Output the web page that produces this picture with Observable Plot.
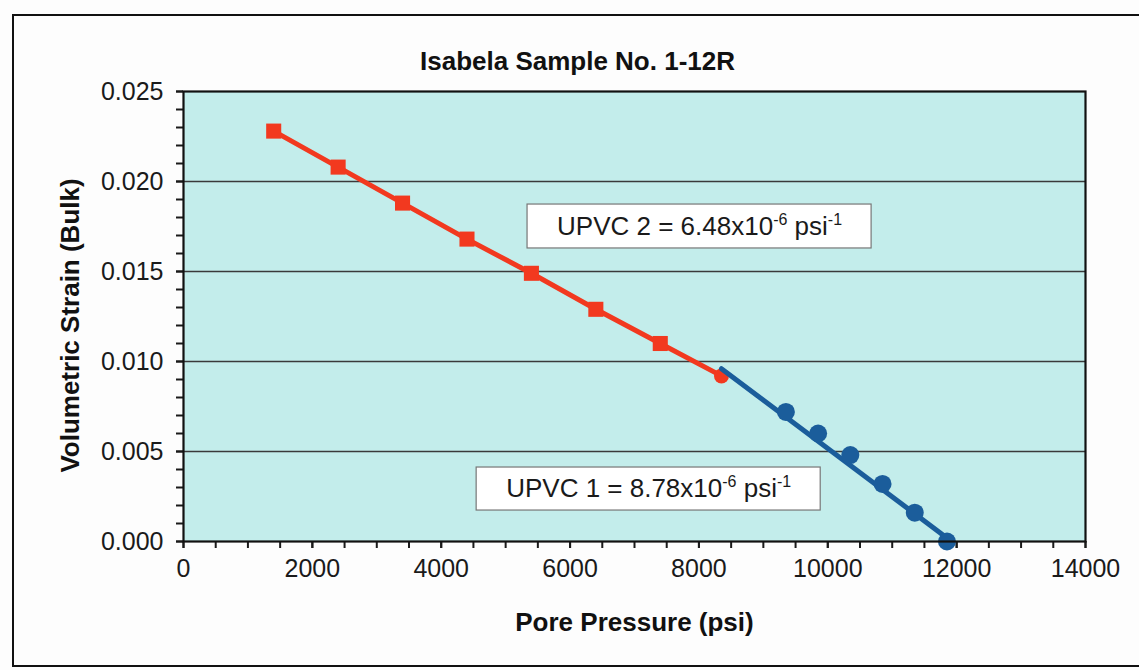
<!DOCTYPE html>
<html>
<head>
<meta charset="utf-8">
<script src="https://cdn.jsdelivr.net/npm/d3@7"></script>
<script src="https://cdn.jsdelivr.net/npm/@observablehq/plot@0.6"></script>
<style>
  html, body { margin: 0; padding: 0; background: #fdfdfd; overflow: hidden; }
  #wrap { position: relative; width: 1139px; height: 670px; }
  #border { position: absolute; left: 12px; top: 14px; width: 1140px; height: 649px; border: 2px solid #111; border-right: none; }
  #chart { position: absolute; left: 0; top: 0; }
  svg { font-family: "Liberation Sans", Arial, sans-serif; }
</style>
</head>
<body>
<div id="wrap"><div id="border"></div><div id="chart"></div></div>
<script>
// ---- data ----
const title = "Isabela Sample No. 1-12R";
const xLabel = "Pore Pressure (psi)";
const yLabel = "Volumetric Strain (Bulk)";

// UPVC 2 stage (red squares)
const redPressure = [1400, 2400, 3400, 4400, 5400, 6400, 7400, 8350];
const redStrain   = [0.0228, 0.0208, 0.0188, 0.0168, 0.0149, 0.0129, 0.0110, 0.0092];

// UPVC 1 stage (blue circles)
const bluePressure = [9350, 9850, 10350, 10850, 11350, 11850];
const blueStrain   = [0.0072, 0.0060, 0.0048, 0.0032, 0.0016, 0.0000];

// fitted UPVC 1 line end points
const blueFitPressure = [8350, 11850];
const blueFitStrain   = [0.0096, 0.0002];

const xTicksMajor = [0, 2000, 4000, 6000, 8000, 10000, 12000, 14000];
const yTicksMajor = [0, 0.005, 0.010, 0.015, 0.020, 0.025];
const gridValues  = [0.005, 0.010, 0.015, 0.020];

// annotation text pieces: [text, isSuperscript]
const upvc2Parts = [["UPVC 2 = 6.48x10", false], ["-6", true], [" psi", false], ["-1", true]];
const upvc1Parts = [["UPVC 1 = 8.78x10", false], ["-6", true], [" psi", false], ["-1", true]];

// ---- build tables ----
const red = redPressure.map((p, i) => ({p, s: redStrain[i]}));
const redSquares = red.slice(0, -1);
const redLast = red.slice(-1);
const blue = bluePressure.map((p, i) => ({p, s: blueStrain[i]}));
const blueFit = blueFitPressure.map((p, i) => ({p, s: blueFitStrain[i]}));

const RED = "#f2391f";
const BLUE = "#1b5d9b";
const FS = 25;

const annotations = [
  {parts: upvc2Parts, x1: 5340, x2: 10680, y1: 0.01628, y2: 0.01872, cx: 8010, cy: 0.01750},
  {parts: upvc1Parts, x1: 4550, x2: 9890, y1: 0.00172, y2: 0.00411, cx: 7220, cy: 0.00291}
];

const chart = Plot.plot({
  width: 1139,
  height: 670,
  marginLeft: 183,
  marginRight: 54,
  marginTop: 91,
  marginBottom: 129,
  style: {fontFamily: '"Liberation Sans", Arial, sans-serif', background: "transparent", color: "#1a1a1a"},
  x: {domain: [0, 14000]},
  y: {domain: [0, 0.025]},
  marks: [
    Plot.frame({fill: "#c3edeb"}),
    Plot.ruleY(gridValues, {stroke: "#3a3a3a", strokeWidth: 1.3}),
    // minor ticks
    Plot.axisX({ticks: d3.range(0, 14001, 500), tickSize: 7, text: null, label: null, strokeWidth: 2}),
    Plot.axisY({ticks: d3.range(0, 0.02501, 0.001), tickSize: 7, text: null, label: null, strokeWidth: 2}),
    // labelled axes
    Plot.axisX({ticks: xTicksMajor, tickSize: 7, tickPadding: 11, tickFormat: d => String(d), fontSize: FS, label: null, strokeWidth: 2}),
    Plot.axisY({ticks: yTicksMajor, tickSize: 7, tickPadding: 13, tickFormat: d3.format(".3f"), fontSize: FS, label: null, strokeWidth: 2}),
    // annotation boxes
    Plot.rect(annotations, {x1: "x1", x2: "x2", y1: "y1", y2: "y2", fill: "white", stroke: "#777", strokeWidth: 1.2}),
    Plot.text(annotations, {x: "cx", y: "cy", text: d => d.parts.map(q => q[0]).join(""), fontSize: 26, fill: "#1a1a1a"}),
    // series
    Plot.line(red, {x: "p", y: "s", stroke: RED, strokeWidth: 5}),
    Plot.dot(redSquares, {x: "p", y: "s", symbol: "square", r: 8.5, fill: RED}),
    Plot.dot(redLast, {x: "p", y: "s", symbol: "circle", r: 7.5, fill: RED}),
    Plot.line(blueFit, {x: "p", y: "s", stroke: BLUE, strokeWidth: 5}),
    Plot.dot(blue, {x: "p", y: "s", symbol: "circle", r: 9, fill: BLUE}),
    Plot.frame({stroke: "#111", strokeWidth: 2.2}),
    // titles
    Plot.text([title], {frameAnchor: "top", lineAnchor: "middle", dx: -57, dy: -30, fontSize: 26, fontWeight: "bold", fill: "#111"}),
    Plot.text([xLabel], {frameAnchor: "bottom", lineAnchor: "middle", dy: 81, fontSize: 26, fontWeight: "bold", fill: "#111"}),
    Plot.text([yLabel], {frameAnchor: "left", textAnchor: "middle", dx: -113, dy: 9, rotate: -90, fontSize: 26, fontWeight: "bold", fill: "#111"})
  ]
});

document.getElementById("chart").appendChild(chart);

// superscripts in annotation labels
d3.select(chart).selectAll("text").each(function() {
  const el = d3.select(this);
  const txt = el.text();
  const ann = annotations.find(a => a.parts.map(q => q[0]).join("") === txt);
  if (!ann) return;
  el.text(null);
  let shifted = false;
  ann.parts.forEach(([t, sup]) => {
    const ts = el.append("tspan").text(t);
    if (sup) {
      ts.attr("font-size", 16);
      if (!shifted) { ts.attr("dy", -10); shifted = true; }
    } else if (shifted) {
      ts.attr("dy", 10); shifted = false;
    }
  });
});
</script>
</body>
</html>
